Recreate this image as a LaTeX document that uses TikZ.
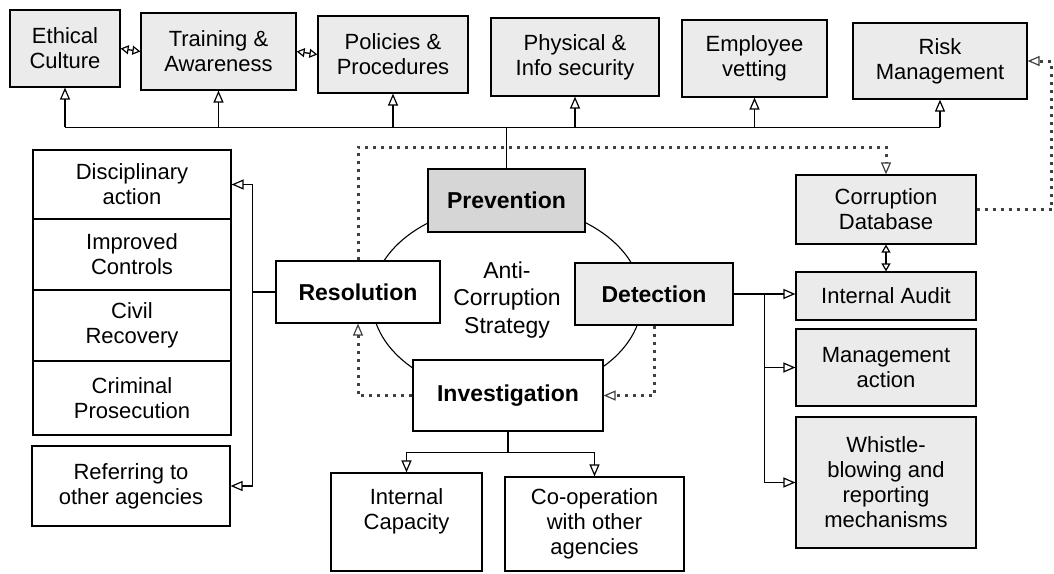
\documentclass[tikz,border=0pt]{standalone}
\usepackage{fontspec}
\setmainfont{Liberation Sans}
\usetikzlibrary{arrows.meta}

\begin{document}
\begin{tikzpicture}[x=1pt, y=-1pt,
  box/.style={draw, fill=white, line width=1.2pt, inner sep=2pt, align=center, font=\fontsize{22}{25}\selectfont},
  shade/.style={box, fill=gray!16},
  key/.style={font=\fontsize{23}{27}\selectfont\bfseries},
  arr/.style={-{Triangle[open, length=12pt, width=10pt, line width=1.2pt]}, line width=1.3pt},
  twoway/.style={{Triangle[open, length=8pt, width=9pt, line width=1.2pt]}-{Triangle[open, length=8pt, width=9pt, line width=1.2pt]}, line width=1.3pt},
  dotarr/.style={line width=3pt, dash pattern=on 3pt off 5pt, black!75, -{Triangle[open, length=12pt, width=10pt, line width=1.2pt]}}]

\useasboundingbox (0,0) rectangle (1054,573);

\draw[line width=1.1pt] (507,300) ellipse [x radius=135pt, y radius=95pt];

% top row
\node[shade, minimum width=110pt, minimum height=77pt] (eth) at (65,48.5) {Ethical\\Culture};
\node[shade, minimum width=155pt, minimum height=77pt] (train) at (218.5,51.5) {Training \&\\Awareness};
\node[shade, minimum width=150pt, minimum height=77pt] (pol) at (393,54.5) {Policies \&\\Procedures};
\node[shade, minimum width=168pt, minimum height=78pt] (phys) at (575,57) {Physical \&\\Info security};
\node[shade, minimum width=145pt, minimum height=77pt] (emp) at (754.5,58.5) {Employee\\vetting};
\node[shade, minimum width=174pt, minimum height=76pt] (risk) at (940,61) {Risk\\Management};

% strategy
\node[shade, key, fill=gray!32, minimum width=157pt, minimum height=63pt] (prev) at (506.5,200.5) {Prevention};
\node[box, key, minimum width=164pt, minimum height=62pt] (res) at (358,292) {Resolution};
\node[shade, key, minimum width=158pt, minimum height=62pt] (det) at (654,294) {Detection};
\node[box, key, minimum width=190pt, minimum height=71pt] (inv) at (508,395.5) {Investigation};
\node[align=center, font=\fontsize{23}{27.5}\selectfont] (acs) at (507,300) {Anti-\\Corruption\\Strategy};

% outcomes
\node[box, minimum width=198pt, minimum height=69pt] (disc) at (132,184.5) {Disciplinary\\action};
\node[box, minimum width=198pt, minimum height=71pt] (impr) at (132,254.5) {Improved\\Controls};
\node[box, minimum width=198pt, minimum height=71pt] (civ) at (132,325.5) {Civil\\Recovery};
\node[box, minimum width=198pt, minimum height=74pt] (crim) at (132,398) {Criminal\\Prosecution};
\node[box, minimum width=198pt, minimum height=80pt] (refer) at (131,486) {Referring to\\other agencies};

% detection side
\node[shade, minimum width=180pt, minimum height=69pt] (cdb) at (886,209.5) {Corruption\\Database};
\node[shade, minimum width=180pt, minimum height=48pt] (ia) at (886,296) {Internal Audit};
\node[shade, minimum width=180pt, minimum height=77pt] (ma) at (886,367.5) {Management\\action};
\node[shade, minimum width=180pt, minimum height=131pt] (wb) at (886,482.5) {Whistle-\\blowing and\\reporting\\mechanisms};

% investigation side
\node[box, minimum width=151pt, minimum height=98pt] (cap) at (406.5,522) {Internal\\Capacity\\\mbox{}};
\node[box, minimum width=179pt, minimum height=94pt] (coop) at (594.5,524) {Co-operation\\with other\\agencies};

% prevention links
\path (prev.north) ++(0,-41) coordinate (hub);
\draw[line width=1.3pt] (prev.north) to (hub);
\draw[line width=1.3pt] (eth.south |- hub) to (risk.south |- hub);
\foreach \b in {eth,train,pol,phys,emp,risk}
  \draw[arr] (\b.south |- hub) to (\b.south);
\draw[twoway] (eth.east) to (train.west);
\draw[twoway] (train.east) to (pol.west);

% dotted feedback
\path (res.north) ++(0,-113) coordinate (dotrow);
\draw[dotarr] (res.north) -- (dotrow) -| (cdb.north);
\draw[dotarr] (cdb.east) -- ++(75,0) |- (risk.east);
\draw[dotarr] (det.south) |- (inv.east);
\draw[dotarr] (inv.west) -| (res.south);

% detection links
\draw[twoway] (cdb.south) to (ia.north);
\draw[arr] (det.east) to (det.east -| ia.west);
\path (det.east) ++(31,0) coordinate (dj);
\draw[arr] (dj) |- (ma.west);
\draw[arr] (dj) |- (wb.west);

% resolution links
\path (res.west) ++(-23,0) coordinate (rj);
\draw[line width=1.3pt] (res.west) to (rj);
\draw[arr] (rj) |- (disc.east);
\draw[arr] (rj) |- (refer.east);

% investigation links
\path (inv.south) ++(0,21) coordinate (ij);
\draw[line width=1.3pt] (inv.south) to (ij);
\draw[arr] (ij) -| (cap.north);
\draw[arr] (ij) -| (coop.north);
\end{tikzpicture}
\end{document}
